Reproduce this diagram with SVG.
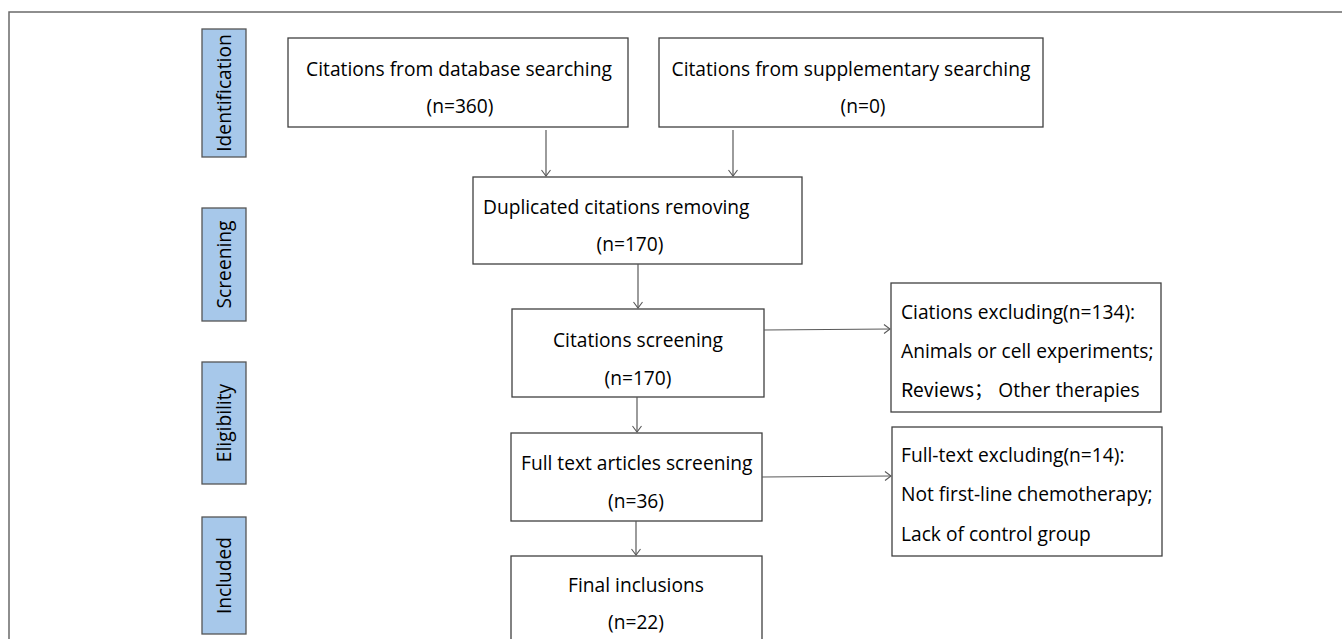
<svg xmlns="http://www.w3.org/2000/svg" width="1342" height="639" viewBox="0 0 1342 639">
<defs>
<style>
.box{fill:#fff;stroke:#404040;stroke-width:1.3}
.lab{fill:#a7c8ea;stroke:#555;stroke-width:1.3}
.t{font-family:"Open Sans","Liberation Sans","Noto Sans CJK SC",sans-serif;font-size:19.2px;fill:#000}
.c{text-anchor:middle}
.con{stroke:#595959;stroke-width:1.2;fill:none}
</style>
<marker id="ah" markerWidth="10" markerHeight="10" refX="8" refY="5" orient="auto" markerUnits="userSpaceOnUse">
<path d="M2,0.5 L8,5 L2,9.5" fill="none" stroke="#595959" stroke-width="1.1"/>
</marker>
</defs>
<rect width="1342" height="639" fill="#fff"/>
<g id="frame"><path d="M9,639 L9,12 L1342,12" fill="none" stroke="#6a6a6a" stroke-width="1.5"/></g>

<g id="lab-identification"><rect class="lab" x="202" y="29" width="44" height="128"/><text class="t c" transform="translate(231,93) rotate(-90)">Identification</text></g>
<g id="lab-screening"><rect class="lab" x="202" y="208" width="44" height="113"/><text class="t c" transform="translate(231,264.5) rotate(-90)">Screening</text></g>
<g id="lab-eligibility"><rect class="lab" x="202" y="362" width="44" height="122"/><text class="t c" transform="translate(231,423) rotate(-90)">Eligibility</text></g>
<g id="lab-included"><rect class="lab" x="202" y="517" width="44" height="117"/><text class="t c" transform="translate(231,575.5) rotate(-90)">Included</text></g>

<g id="n-database"><rect class="box" x="288" y="38" width="340" height="89"/><text class="t c" x="459" y="76">Citations from database searching</text><text class="t c" x="460" y="113">(n=360)</text></g>
<g id="n-supplementary"><rect class="box" x="659" y="38" width="384" height="89"/><text class="t c" x="851" y="76">Citations from supplementary searching</text><text class="t c" x="863" y="113">(n=0)</text></g>
<g id="n-duplicated"><rect class="box" x="473" y="177" width="329" height="87"/><text class="t" x="483" y="214">Duplicated citations removing</text><text class="t c" x="630" y="251">(n=170)</text></g>
<g id="n-screening"><rect class="box" x="512" y="309" width="252" height="88"/><text class="t c" x="638" y="347">Citations screening</text><text class="t c" x="638" y="385">(n=170)</text></g>
<g id="n-fulltext"><rect class="box" x="511" y="433" width="251" height="88"/><text class="t" x="521" y="470">Full text articles screening</text><text class="t c" x="636" y="508">(n=36)</text></g>
<g id="n-final"><rect class="box" x="511" y="556" width="251" height="90"/><text class="t c" x="636" y="592">Final inclusions</text><text class="t c" x="636" y="629">(n=22)</text></g>
<g id="n-excl1"><rect class="box" x="891" y="283" width="270" height="129"/><text class="t" x="901" y="319">Ciations excluding(n=134):</text><text class="t" x="901" y="358">Animals or cell experiments;</text><text class="t" x="901" y="397" style="font-family:'Noto Sans CJK SC','Open Sans',sans-serif">Reviews<tspan>；</tspan><tspan font-family="Open Sans, sans-serif"> Other therapies</tspan></text></g>
<g id="n-excl2"><rect class="box" x="892" y="427" width="270" height="129"/><text class="t" x="901" y="462">Full-text excluding(n=14):</text><text class="t" x="901" y="501">Not first-line chemotherapy;</text><text class="t" x="901" y="541">Lack of control group</text></g>

<g id="connectors">
<line class="con" x1="546" y1="130" x2="546" y2="176" marker-end="url(#ah)"/>
<line class="con" x1="733" y1="130" x2="733" y2="176" marker-end="url(#ah)"/>
<line class="con" x1="638" y1="264" x2="638" y2="308" marker-end="url(#ah)"/>
<line class="con" x1="637" y1="397" x2="637" y2="432" marker-end="url(#ah)"/>
<line class="con" x1="636" y1="521" x2="636" y2="555" marker-end="url(#ah)"/>
<line class="con" x1="764" y1="330" x2="890" y2="329" marker-end="url(#ah)"/>
<line class="con" x1="762" y1="477" x2="891" y2="476" marker-end="url(#ah)"/>
</g>
</svg>
